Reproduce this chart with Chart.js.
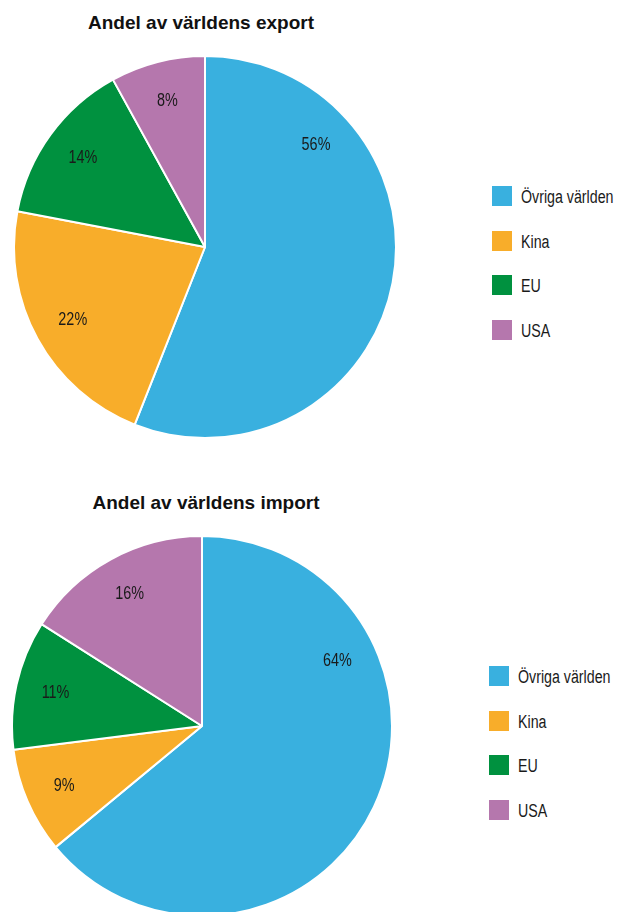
<!DOCTYPE html>
<html>
<head>
<meta charset="utf-8">
<script src="https://cdn.jsdelivr.net/npm/chart.js@4/dist/chart.umd.min.js"></script>
<style>
  html, body { margin: 0; padding: 0; background: #fff; overflow: hidden; }
  body { width: 617px; height: 912px; position: relative; }
  .title { position: absolute; font-family: "Liberation Sans", Arial, sans-serif; font-weight: bold;
           font-size: 19px; color: #111; white-space: nowrap; transform: translateX(-50%); }
  .pie { position: absolute; }
  .legend { position: absolute; font-family: "Liberation Sans", Arial, sans-serif;
            font-size: 18px; color: #1a1a1a; }
  .legend .item { display: flex; align-items: center; height: 20px; margin-bottom: 24.7px; white-space: nowrap; }
  .legend .box { width: 20px; height: 20px; margin-right: 9px; flex: none; }
  .legend .txt { display: inline-block; transform: scaleX(0.79); transform-origin: 0 50%;
                 position: relative; top: 1.5px; }
</style>
</head>
<body>
<div class="title" id="t1" style="left:201px; top:12px;"></div>
<canvas class="pie" id="c1" width="384" height="384" style="left:13px; top:55px;"></canvas>
<div class="legend" id="l1" style="left:492px; top:186px;"></div>

<div class="title" id="t2" style="left:206px; top:492px;"></div>
<canvas class="pie" id="c2" width="382" height="382" style="left:11px; top:535px;"></canvas>
<div class="legend" id="l2" style="left:489px; top:666px;"></div>

<script>
// Regions of the world, in drawing order (clockwise from 12 o'clock)
const regions = ['Övriga världen', 'Kina', 'EU', 'USA'];
const regionColors = ['#39b0df', '#f8ad2a', '#00913f', '#b577ad'];

// Share of world exports and imports, percent
const exportShare = [56, 22, 14, 8];
const importShare = [64, 9, 11, 16];

const exportTitle = 'Andel av världens export';
const importTitle = 'Andel av världens import';

// Narrow look for the percent labels: regular sans squeezed horizontally
const labelFont = '18px "Liberation Sans", Arial, sans-serif';
const labelSqueeze = 0.8;

// Writes "NN%" inside each slice, at a chosen fraction along the slice's arc
const sliceLabels = {
  id: 'sliceLabels',
  afterDatasetsDraw(chart, args, opts) {
    const ctx = chart.ctx;
    const meta = chart.getDatasetMeta(0);
    const values = chart.data.datasets[0].data;
    meta.data.forEach((arc, i) => {
      const p = arc.getProps(['x', 'y', 'startAngle', 'endAngle', 'outerRadius'], true);
      const a = p.startAngle + (p.endAngle - p.startAngle) * opts.along[i];
      const r = p.outerRadius * opts.radial;
      ctx.save();
      ctx.translate(p.x + Math.cos(a) * r, p.y + Math.sin(a) * r);
      ctx.scale(labelSqueeze, 1);
      ctx.font = labelFont;
      ctx.fillStyle = '#1a1a1a';
      ctx.textAlign = 'center';
      ctx.textBaseline = 'middle';
      ctx.fillText(values[i] + '%', 0, 0);
      ctx.restore();
    });
  }
};

function makePie(canvasId, values, along) {
  return new Chart(document.getElementById(canvasId), {
    type: 'pie',
    data: {
      labels: regions,
      datasets: [{
        data: values,
        backgroundColor: regionColors,
        borderColor: '#ffffff',
        borderWidth: 2,
        hoverOffset: 0
      }]
    },
    options: {
      responsive: false,
      animation: false,
      layout: { padding: 0 },
      plugins: {
        legend: { display: false },
        tooltip: { enabled: false },
        sliceLabels: { along: along, radial: 0.79 }
      }
    },
    plugins: [sliceLabels]
  });
}

function makeLegend(id) {
  const el = document.getElementById(id);
  regions.forEach((name, i) => {
    const item = document.createElement('div');
    item.className = 'item';
    const box = document.createElement('span');
    box.className = 'box';
    box.style.background = regionColors[i];
    const txt = document.createElement('span');
    txt.className = 'txt';
    txt.textContent = name;
    item.appendChild(box);
    item.appendChild(txt);
    el.appendChild(item);
  });
}

document.getElementById('t1').textContent = exportTitle;
document.getElementById('t2').textContent = importTitle;

makePie('c1', exportShare, [0.235, 0.5, 0.5, 0.5]);
makePie('c2', importShare, [0.28, 0.5, 0.5, 0.5]);
makeLegend('l1');
makeLegend('l2');
</script>
</body>
</html>
